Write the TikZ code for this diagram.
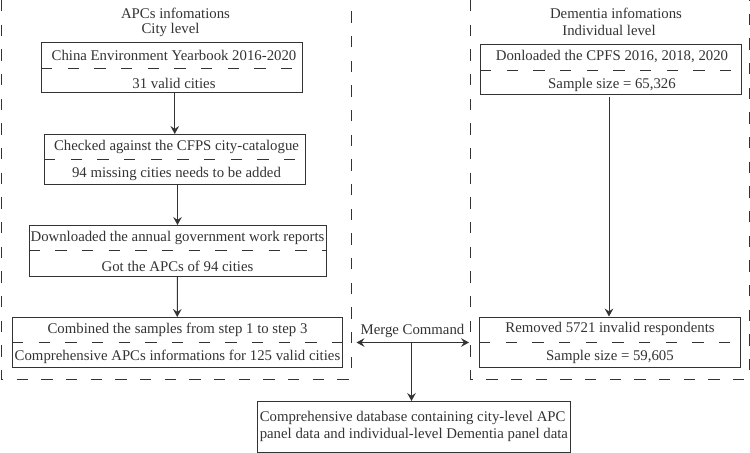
\documentclass[tikz,border=0pt]{standalone}
\usepackage{fontspec}
\setmainfont{Liberation Serif}
\usetikzlibrary{arrows.meta}
\definecolor{ink}{HTML}{333333}
\tikzset{
  px/.style={x=0.75pt,y=-0.75pt},
  outerbox/.style={draw=ink,line width=0.75pt,dash pattern=on 8.5pt off 10pt},
  stepbox/.style={draw=ink,line width=0.75pt,inner sep=0pt,rectangle},
  divider/.style={draw=ink,line width=0.7pt,dash pattern=on 8.5pt off 11.5pt},
  lbl/.style={inner sep=0pt,text=ink,font=\fontsize{11.1pt}{12.75pt}\selectfont,anchor=center},
  arr/.style={draw=ink,line width=0.75pt,-{Stealth[length=6pt,width=6.5pt,inset=2.2pt]}},
  arrboth/.style={draw=ink,line width=0.75pt,{Stealth[length=6pt,width=6.5pt,inset=2.2pt]}-{Stealth[length=6pt,width=6.5pt,inset=2.2pt]}},
}
\newcommand{\stepnode}[8]{%
  % name, x1, y1, x2, y2, top text, bottom text, text centre x
  \node[stepbox,minimum width={(#4-#2)*0.75pt},minimum height={(#5-#3)*0.75pt}] (#1) at ({(#2+#4)/2},{(#3+#5)/2}) {};
  \draw[divider] (#1.west) -- (#1.east);
  \node[lbl] (#1t) at (#8,{#3+12}) {#6};
  \node[lbl] (#1b) at (#8,{#5-10}) {#7};
}
\begin{document}
\begin{tikzpicture}[px]
\useasboundingbox (0,0) rectangle (750,453);
\draw[outerbox] (1,0) rectangle (351,379);
\draw[outerbox] (470.7,0) rectangle (749,379);
\node[lbl] (ltitle1) at (175.5,13) {APCs infomations};
\node[lbl] (ltitle2) at (170.5,30) {City level};
\node[lbl] (rtitle1) at (616,13) {Dementia infomations};
\node[lbl] (rtitle2) at (609,30) {Individual level};

\stepnode{b1}{41.5}{43}{302}{93}{China Environment Yearbook 2016-2020}{31 valid cities}{174}
\stepnode{b2}{44.5}{134.5}{305}{184}{Checked against the CFPS city-catalogue}{94 missing cities needs to be added}{{(177+176)/2}}
\stepnode{b3}{29}{225.5}{326}{276}{Downloaded the annual government work reports}{Got the APCs of 94 cities}{177.5}
\stepnode{b4}{12.5}{317.5}{342}{367}{Combined the samples from step 1 to step 3}{Comprehensive APCs informations for 125 valid cities}{177.5}
\stepnode{r1}{480.5}{45}{741}{95}{Donloaded the CPFS 2016, 2018, 2020}{Sample size = 65,326}{612}
\stepnode{r2}{479.5}{317}{740}{367}{Removed 5721 invalid respondents}{Sample size = 59,605}{610}

\node[stepbox,minimum width={313*0.75pt},minimum height={50.5*0.75pt}] (db) at (413.5,426.75) {};
\node[lbl,align=left,anchor=west] (dbt) at (259.5,426) {Comprehensive database containing city-level APC\\panel data and individual-level Dementia panel data};

\node[lbl] (merge) at (412.5,331) {Merge Command};
\coordinate (mL) at (356.5,342.5);
\coordinate (mR) at (469,342.5);
\coordinate (mC) at (411.5,342.5);

\draw[arr] (b1.south -| b2.north) -- (b2.north);
\draw[arr] (b2.south -| b3.north) -- (b3.north);
\draw[arr] (b3.south) -- (b4.north);
\draw[arr,shorten <=1.5pt] (r1.south -| 609,0) -- (r2.north -| 609,0);
\draw[arrboth] (mL) -- (mR);
\draw[arr] (mC) -- (db.north -| mC);
\end{tikzpicture}
\end{document}
